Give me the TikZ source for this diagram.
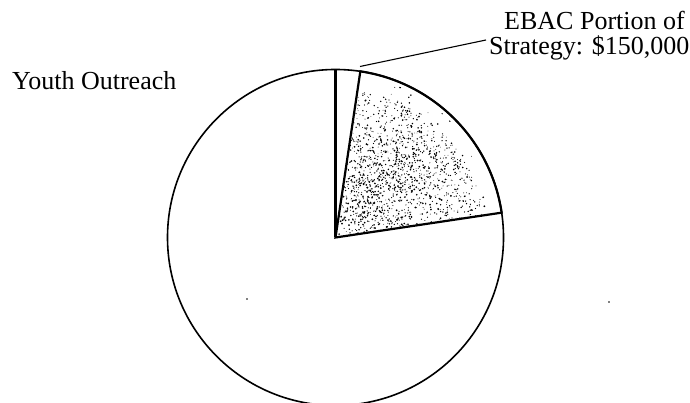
\documentclass[tikz,border=0pt]{standalone}
\usepackage{fontspec}
\usetikzlibrary{calc}
\setmainfont{Liberation Serif}
\begin{document}
\begin{tikzpicture}[x=1pt,y=1pt,
  lbl/.style={inner sep=0pt,font=\fontsize{26}{26}\selectfont},
  rim/.style={line width=1.6pt},
  slice/.style={line width=2.2pt,line join=miter},
  leader/.style={line width=1.1pt}]
\useasboundingbox (0,0) rectangle (690,403);
\coordinate (C) at (335.5,165.5);
% pie outline
\draw[rim] (C) circle (168);
% stippled sector
\begin{scope}
  \clip (C) -- ++(8.5:164) arc (8.5:81.5:164) -- cycle;
  \pgfmathsetseed{4213}
  \foreach \i in {1,...,650}{
    \pgfmathsetmacro\ang{8.5+73*rnd}
    \pgfmathsetmacro\rad{10+140*sqrt(rnd)}
    \pgfmathsetmacro\sz{0.35+0.5*rnd}
    \fill (C) ++(\ang:\rad) circle (\sz);
  }
  \foreach \i in {1,...,750}{
    \pgfmathsetmacro\dx{(rnd+rnd+rnd-1.5)*70}
    \pgfmathsetmacro\dy{(rnd+rnd+rnd-1.5)*70}
    \pgfmathsetmacro\sz{0.4+0.6*rnd}
    \fill ($(C)+(52:85)+(\dx,\dy)$) circle (\sz);
  }
  \foreach \i in {1,...,250}{
    \pgfmathsetmacro\dx{(rnd+rnd+rnd-1.5)*40}
    \pgfmathsetmacro\dy{(rnd+rnd+rnd-1.5)*40}
    \pgfmathsetmacro\sz{0.4+0.6*rnd}
    \fill ($(C)+(60:40)+(\dx,\dy)$) circle (\sz);
  }
\end{scope}
\draw[slice] (C) -- ++(8.5:168) arc (8.5:81.5:168) -- cycle;
% thin white sector
\draw[slice] (C) -- ++(90:168);
% labels
\node[lbl,anchor=base west] (youth) at (12,313) {Youth Outreach};
\node[lbl,anchor=base west] (ebacA) at (504,373) {EBAC Portion of};
\node[lbl,anchor=base west] (ebacB) at (489,348) {Strategy: \$150,000};
% leader
\coordinate (leadS) at (360,336.5);
\coordinate (leadE) at (486,363);
\draw[leader] (leadS) -- (leadE);
% specks
\fill (247,104) circle (0.9);
\fill (609,101) circle (0.9);
\end{tikzpicture}
\end{document}
